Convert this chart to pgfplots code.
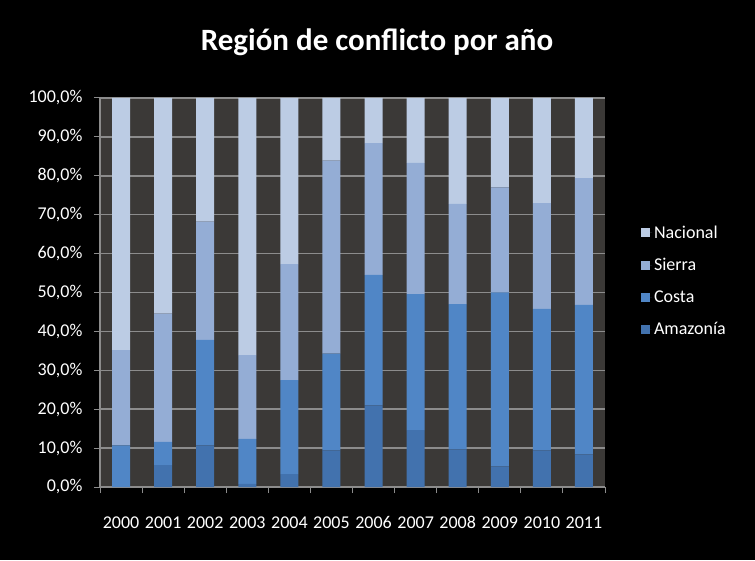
\documentclass[border=0pt]{standalone}
\usepackage{pgfplots}
\pgfplotsset{compat=1.18}
\usepackage{fontspec}
\setmainfont{Carlito}
\definecolor{wall}{RGB}{59,57,55}
\definecolor{gridc}{RGB}{140,140,140}
\definecolor{amaz}{RGB}{66,114,174}
\definecolor{costa}{RGB}{80,134,198}
\definecolor{sierra}{RGB}{148,173,213}
\definecolor{nacional}{RGB}{188,204,228}
\begin{document}
\begin{tikzpicture}[x=1pt,y=1pt]
\fill[black] (0,0) rectangle (755,560);
\node[text=white,font=\fontsize{31}{35}\selectfont\bfseries] at (377,518) {Región de conflicto por año};
\begin{axis}[
  at={(100pt,73pt)}, anchor=south west,
  scale only axis, width=505pt, height=389pt,
  ybar stacked, bar width=18pt,
  xmin=-0.5, xmax=11.5, ymin=0, ymax=100,
  axis background/.style={fill=wall},
  axis x line*=bottom, axis y line*=left,
  axis line style={gridc, line width=1.2pt, -},
  xtick={0,...,11},
  xticklabels={2000,2001,2002,2003,2004,2005,2006,2007,2008,2009,2010,2011},
  xtick style={draw=none},
  extra x ticks={-0.5,0.5,...,11.5},
  extra x tick labels={},
  extra x tick style={grid=none, xtick style={draw=gridc, line width=1pt}},
  ytick={0,10,...,100},
  ymajorgrids, major grid style={gridc, line width=1.5pt},
  tick align=outside, major tick length=6pt,
  ytick style={draw=gridc, line width=1pt},
  /pgf/number format/assume math mode=true,
  yticklabel={\pgfmathprintnumber[fixed,fixed zerofill,precision=1,use comma]{\tick}\%},
  ticklabel style={text=white, font=\fontsize{18}{20}\selectfont},
  xticklabel style={yshift=-20pt},
  yticklabel style={xshift=-8pt},
  legend style={at={(1.065,0.53)}, anchor=west, draw=none, fill=none,
    text=white, font=\fontsize{18}{20}\selectfont, row sep=14.5pt,
    legend cell align=left},
  legend image code/.code={\fill[#1] (0pt,-4.5pt) rectangle (9pt,4.5pt); \path (0pt,0pt) -- (11pt,0pt);},
  reverse legend,
]
\addplot[fill=amaz, draw=none] coordinates {(0,0) (1,5.6) (2,10.7) (3,0.8) (4,3.3) (5,9.4) (6,21.0) (7,14.6) (8,9.7) (9,5.3) (10,9.4) (11,8.4)};
\addplot[fill=costa, draw=none] coordinates {(0,10.7) (1,6.0) (2,27.1) (3,11.6) (4,24.2) (5,24.9) (6,33.5) (7,35.0) (8,37.3) (9,44.7) (10,36.4) (11,38.4)};
\addplot[fill=sierra, draw=none] coordinates {(0,24.5) (1,33.0) (2,30.4) (3,21.5) (4,29.8) (5,49.6) (6,33.9) (7,33.7) (8,25.8) (9,27.0) (10,27.2) (11,32.6)};
\addplot[fill=nacional, draw=none] coordinates {(0,64.8) (1,55.4) (2,31.8) (3,66.1) (4,42.7) (5,16.1) (6,11.6) (7,16.7) (8,27.2) (9,23.0) (10,27.0) (11,20.6)};
\legend{Amazonía,Costa,Sierra,Nacional}
\end{axis}
\end{tikzpicture}
\end{document}
